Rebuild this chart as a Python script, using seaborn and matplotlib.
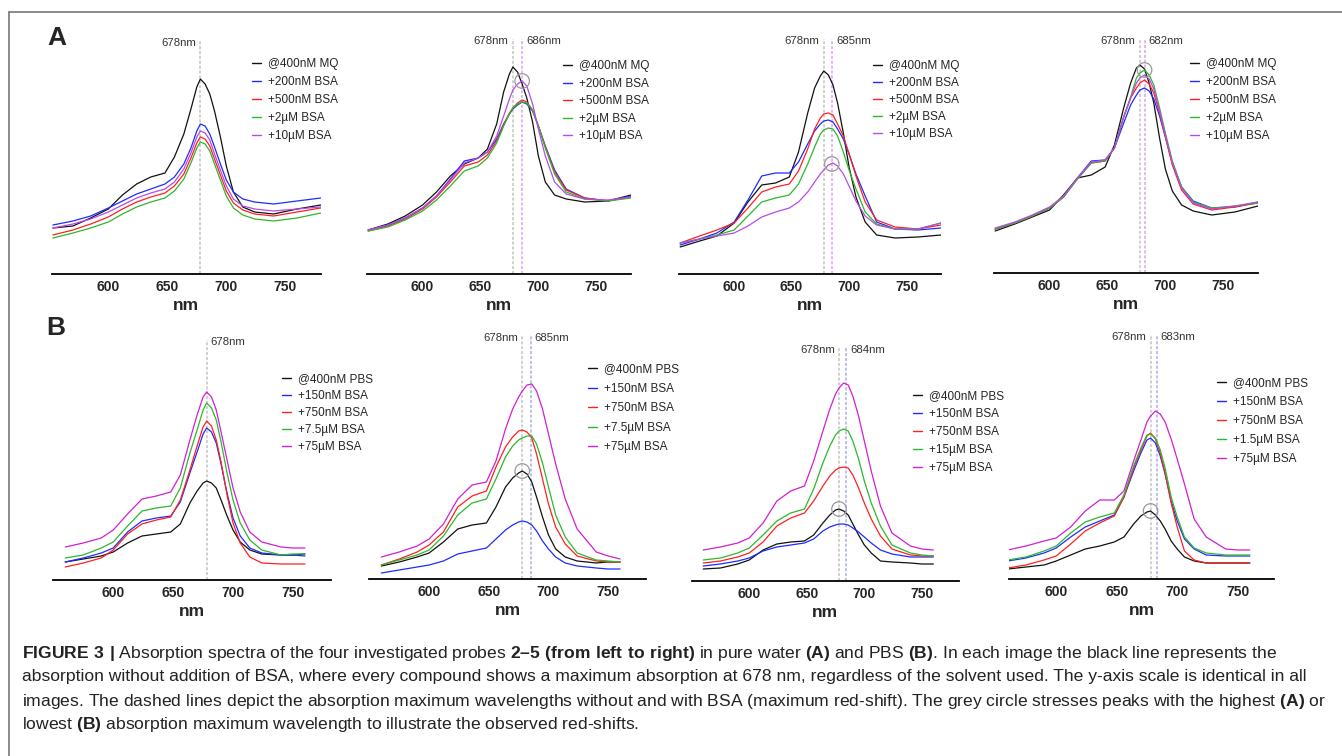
import numpy as np
import pandas as pd
import matplotlib
matplotlib.use("Agg")
import matplotlib.pyplot as plt
from matplotlib.lines import Line2D
import seaborn as sns

sns.set_style("white")
plt.rcParams["font.family"] = ["Liberation Sans", "DejaVu Sans"]
plt.rcParams["mathtext.fontset"] = "custom"
plt.rcParams["mathtext.rm"] = "Liberation Sans"
plt.rcParams["mathtext.bf"] = "Liberation Sans:bold"

W, H = 1342, 756

# wavelength grids (nm)
TOP_NM = [553, 570, 585, 600, 612, 624, 636, 648, 656, 664, 670, 675,
          678, 682, 686, 690, 695, 700, 706, 714, 724, 740, 760, 780]
BOT_NM = [560, 575, 590, 600, 612, 624, 636, 648, 656, 664, 670, 675,
          678, 682, 686, 690, 695, 700, 706, 714, 724, 740, 750, 760]

# legend labels, order: reference, then increasing BSA
MQ_LABELS = ["@400nM MQ", "+200nM BSA", "+500nM BSA", "+2µM BSA", "+10µM BSA"]
B1_LABELS = ["@400nM PBS", "+150nM BSA", "+750nM BSA", "+7.5µM BSA", "+75µM BSA"]
B3_LABELS = ["@400nM PBS", "+150nM BSA", "+750nM BSA", "+15µM BSA", "+75µM BSA"]
B4_LABELS = ["@400nM PBS", "+150nM BSA", "+750nM BSA", "+1.5µM BSA", "+75µM BSA"]

# absorbance (arbitrary units, same scale in all panels)
# rows: black, blue, red, green, violet
A1_ABS = [
    [46, 48, 56, 65, 79, 90, 97, 101, 117, 140, 165, 187, 195, 190, 180, 163, 137, 108, 82, 67, 62, 60, 65, 69],
    [49, 53, 58, 66, 73, 80, 85, 90, 97, 110, 126, 143, 150, 148, 140, 127, 110, 94, 82, 75, 72, 70, 73, 76],
    [39, 44, 50, 57, 65, 72, 77, 81, 88, 100, 116, 131, 137, 135, 128, 115, 99, 83, 71, 64, 60, 58, 62, 66],
    [36, 41, 46, 52, 60, 67, 72, 76, 83, 95, 111, 126, 132, 130, 123, 110, 94, 78, 66, 59, 55, 53, 56, 61],
    [46, 50, 55, 62, 69, 76, 81, 85, 92, 105, 121, 137, 143, 141, 134, 120, 104, 88, 75, 68, 65, 63, 65, 67],
]
A2_ABS = [
    [44, 50, 58, 69, 82, 98, 110, 116, 125, 150, 182, 200, 207, 202, 190, 176, 152, 118, 92, 79, 75, 72, 73, 79],
    [44, 49, 56, 66, 78, 95, 113, 116, 122, 135, 150, 160, 165, 169, 172, 170, 163, 148, 128, 104, 85, 76, 73, 78],
    [43, 48, 55, 65, 77, 92, 108, 112, 119, 133, 149, 161, 166, 171, 174, 172, 164, 148, 127, 102, 84, 76, 73, 77],
    [43, 47, 54, 63, 74, 88, 103, 108, 116, 131, 148, 160, 166, 170, 172, 171, 164, 148, 126, 100, 82, 75, 73, 76],
    [44, 49, 56, 66, 78, 94, 111, 116, 122, 138, 158, 175, 184, 190, 193, 188, 170, 145, 118, 92, 80, 75, 74, 77],
]
A3_ABS = [
    [27, 33, 38, 51, 72, 89, 91, 97, 122, 161, 186, 198, 203, 199, 189, 171, 141, 107, 77, 52, 39, 36, 37, 39],
    [29, 35, 41, 52, 74, 98, 101, 101, 112, 130, 143, 150, 153, 154, 152, 145, 135, 120, 100, 78, 52, 45, 44, 46],
    [31, 38, 44, 51, 66, 82, 87, 90, 103, 125, 145, 156, 160, 161, 159, 150, 138, 120, 98, 72, 54, 47, 45, 49],
    [31, 35, 39, 44, 58, 72, 76, 79, 90, 110, 127, 140, 144, 146, 145, 138, 122, 104, 85, 62, 50, 45, 45, 51],
    [31, 35, 38, 41, 48, 57, 62, 66, 72, 82, 92, 100, 104, 109, 111, 108, 100, 88, 73, 58, 49, 45, 45, 51],
]
A4_ABS = [
    [42, 49, 56, 63, 78, 95, 98, 106, 128, 165, 190, 205, 208, 204, 190, 170, 135, 104, 82, 68, 62, 58, 61, 67],
    [44, 50, 57, 65, 76, 95, 112, 113, 125, 150, 168, 178, 183, 185, 182, 174, 157, 136, 110, 86, 72, 65, 66, 71],
    [44, 50, 57, 65, 76, 94, 110, 112, 125, 156, 175, 185, 190, 193, 189, 180, 160, 136, 108, 83, 69, 63, 66, 70],
    [44, 50, 57, 65, 76, 94, 110, 112, 125, 156, 176, 195, 200, 203, 198, 188, 165, 140, 112, 86, 71, 65, 67, 70],
    [45, 51, 58, 66, 77, 95, 111, 113, 125, 156, 175, 190, 195, 198, 194, 184, 162, 138, 110, 85, 70, 64, 67, 71],
]
B1_ABS = [
    [18, 21, 24, 28, 37, 44, 46, 48, 56, 77, 89, 97, 99, 97, 92, 80, 64, 50, 38, 30, 26, 25, 25, 26],
    [18, 22, 27, 32, 48, 59, 62, 64, 78, 107, 128, 146, 152, 148, 137, 116, 87, 62, 44, 32, 27, 25, 25, 24],
    [13, 17, 22, 30, 46, 56, 60, 63, 80, 110, 134, 153, 159, 154, 140, 118, 85, 57, 37, 23, 17, 16, 16, 16],
    [22, 25, 32, 38, 54, 69, 72, 74, 92, 127, 150, 170, 177, 172, 160, 138, 107, 80, 57, 40, 30, 25, 26, 26],
    [33, 37, 42, 50, 66, 81, 84, 88, 105, 140, 165, 183, 188, 183, 170, 148, 120, 92, 68, 48, 38, 33, 32, 32],
]
B2_ABS = [
    [13, 17, 22, 26, 37, 50, 54, 56, 72, 92, 101, 106, 108, 105, 97, 82, 62, 44, 30, 22, 18, 16, 17, 17],
    [6, 9, 12, 14, 18, 25, 28, 31, 40, 49, 54, 57, 58, 57, 54, 48, 38, 30, 22, 16, 13, 11, 10, 10],
    [14, 20, 27, 34, 47, 72, 83, 88, 112, 132, 142, 148, 149, 147, 141, 125, 100, 75, 52, 35, 23, 18, 17, 17],
    [14, 19, 24, 29, 43, 64, 76, 80, 100, 122, 133, 139, 141, 143, 143, 135, 116, 92, 64, 42, 26, 19, 18, 17],
    [22, 27, 33, 40, 55, 80, 94, 97, 118, 150, 170, 182, 188, 194, 195, 188, 170, 145, 115, 80, 50, 27, 23, 20],
]
B3_ABS = [
    [12, 13, 17, 21, 31, 37, 39, 40, 46, 58, 66, 71, 72, 70, 66, 57, 46, 36, 28, 20, 19, 18, 17, 17],
    [15, 17, 20, 23, 30, 34, 36, 38, 42, 50, 54, 56, 57, 57, 56, 53, 49, 44, 38, 31, 27, 24, 24, 24],
    [18, 20, 24, 28, 39, 55, 63, 68, 80, 95, 105, 111, 113, 114, 113, 106, 93, 78, 62, 45, 32, 26, 25, 25],
    [21, 23, 28, 33, 46, 60, 68, 72, 92, 118, 135, 146, 150, 152, 150, 140, 122, 100, 78, 55, 36, 28, 26, 25],
    [31, 34, 38, 43, 58, 80, 90, 95, 120, 150, 172, 187, 193, 198, 196, 185, 165, 140, 110, 75, 48, 35, 32, 31],
]
B4_ABS = [
    [10, 12, 14, 18, 24, 30, 33, 37, 42, 55, 63, 67, 68, 64, 58, 50, 38, 30, 22, 18, 16, 16, 16, 16],
    [18, 21, 26, 31, 42, 52, 58, 64, 82, 108, 126, 139, 141, 136, 123, 105, 78, 58, 40, 30, 24, 23, 23, 23],
    [11, 14, 19, 23, 35, 48, 56, 63, 82, 111, 129, 143, 146, 140, 126, 106, 76, 52, 28, 19, 16, 16, 16, 16],
    [19, 22, 28, 33, 46, 57, 62, 66, 84, 113, 131, 144, 145, 141, 129, 111, 82, 62, 42, 31, 26, 24, 24, 24],
    [29, 33, 38, 41, 52, 68, 79, 79, 88, 118, 139, 157, 163, 168, 165, 157, 140, 120, 95, 60, 42, 30, 29, 29],
]

# absorption maxima (nm) without / with BSA, and circled peaks (nm, abs)
A_MAX = [[678], [678, 686], [678, 685], [678, 682]]
B_MAX = [[678], [678, 685], [678, 684], [678, 683]]
A_CIRCLE = [None, (686, 193), (685, 110), (682, 203)]
B_CIRCLE = [None, (678, 108), (678, 72), (678, 68)]

COLORS_A = ["#111111", "#1f2bff", "#ff2020", "#2cb82c", "#b64be8"]
COLORS_B = ["#111111", "#1f2bff", "#ff2020", "#2cb82c", "#d21fd2"]

fig = plt.figure(figsize=(W / 100, H / 100), dpi=100)

# panel geometry in pixels: left, bottom, width, xlim, legend (x, y, spacing), label y
panels = [
    (TOP_NM, A1_ABS, MQ_LABELS, COLORS_A, A_MAX[0], A_CIRCLE[0], 51.7, 274, 269, (552, 780), (252, 63, 18), 43, "#d9a6ea"),
    (TOP_NM, A2_ABS, MQ_LABELS, COLORS_A, A_MAX[1], A_CIRCLE[1], 367, 274, 264, (552, 780), (563, 65, 17.5), 41, "#d9a6ea"),
    (TOP_NM, A3_ABS, MQ_LABELS, COLORS_A, A_MAX[2], A_CIRCLE[2], 679, 274, 262, (552, 780), (873, 65, 17), 41, "#d9a6ea"),
    (TOP_NM, A4_ABS, MQ_LABELS, COLORS_A, A_MAX[3], A_CIRCLE[3], 994, 273, 264, (552, 780), (1190, 63, 17.8), 41, "#d9a6ea"),
    (BOT_NM, B1_ABS, B1_LABELS, COLORS_B, B_MAX[0], B_CIRCLE[0], 53.3, 580, 278, (550, 782), (282, 378, 17), 342, "#aab0e6"),
    (BOT_NM, B2_ABS, B1_LABELS, COLORS_B, B_MAX[1], B_CIRCLE[1], 369.4, 579, 277, (550, 782), (588, 368, 19.5), 338, "#aab0e6"),
    (BOT_NM, B3_ABS, B3_LABELS, COLORS_B, B_MAX[2], B_CIRCLE[2], 691.7, 581, 267, (550, 782), (913, 395, 18), 350, "#aab0e6"),
    (BOT_NM, B4_ABS, B4_LABELS, COLORS_B, B_MAX[3], B_CIRCLE[3], 1009, 579, 265, (561, 780), (1217, 382, 19), 337, "#aab0e6"),
]

AX_H = 234

for i, (nm, vals, labels, colors, maxima, circle, left, bottom, width, xlim, leg, lab_y, shift_col) in enumerate(panels):
    ax = fig.add_axes([left / W, 1 - bottom / H, width / W, AX_H / H])
    df = pd.DataFrame({
        "nm": np.tile(nm, len(vals)),
        "abs": np.concatenate(vals),
        "sample": np.repeat(labels, len(nm)),
    })
    sns.lineplot(data=df, x="nm", y="abs", hue="sample", hue_order=labels,
                 palette=colors, estimator=None, linewidth=0.9, legend=False, ax=ax)
    ax.set_xlim(*xlim)
    ax.set_ylim(0, AX_H)
    ax.set_yticks([])
    ax.set_ylabel("")
    ax.set_xticks([600, 650, 700, 750])
    ax.tick_params(axis="x", length=0, pad=4, labelsize=10)
    for t in ax.get_xticklabels():
        t.set_fontweight("bold")
    ax.set_xlabel("nm", fontsize=12.5, fontweight="bold", labelpad=3)
    for s in ["top", "left", "right"]:
        ax.spines[s].set_visible(False)
    ax.spines["bottom"].set_color("black")
    ax.spines["bottom"].set_linewidth(1.3)
    ax.patch.set_alpha(0)

    # dashed lines at absorption maxima
    top_frac = (bottom - lab_y + 2) / AX_H
    for k, m in enumerate(maxima):
        ax.axvline(m, ymin=0, ymax=top_frac, color="#c4c4c4" if k == 0 else shift_col,
                   lw=1.1, ls=(0, (2, 1.2)), clip_on=False, zorder=0)
    yfrac = (bottom - lab_y) / AX_H
    lab_kw = dict(xycoords=("data", "axes fraction"), textcoords="offset points",
                  va="center", fontsize=8.2, color="#333333", annotation_clip=False)
    if len(maxima) == 1 and i >= 4:
        ax.annotate(f"{maxima[0]}nm", xy=(maxima[0], yfrac), xytext=(3, 0), ha="left", **lab_kw)
    else:
        ax.annotate(f"{maxima[0]}nm", xy=(maxima[0], yfrac), xytext=(-3, 0), ha="right", **lab_kw)
        if len(maxima) > 1:
            ax.annotate(f"{maxima[1]}nm", xy=(maxima[1], yfrac), xytext=(3, 0), ha="left", **lab_kw)
    if circle is not None:
        ax.scatter([circle[0]], [circle[1]], s=110, facecolors="none",
                   edgecolors="#9a9a9a", linewidths=0.9, zorder=5)

    lx, ly, sp = leg
    handles = [Line2D([0], [0], color=c, lw=1.0) for c in colors]
    fs = 8.5
    ax.legend(handles, labels, loc="upper left",
              bbox_to_anchor=(lx / W, 1 - (ly - 4.5) / H), bbox_transform=fig.transFigure,
              frameon=False, fontsize=fs, handlelength=0.75, handletextpad=0.6,
              labelspacing=(sp / 1.389 - fs * 1.017) / fs, borderpad=0, borderaxespad=0)

# panel letters
fig.text(57 / W, 1 - 38 / H, "A", fontsize=19, fontweight="bold", ha="center", va="center")
fig.text(56 / W, 1 - 328 / H, "B", fontsize=19, fontweight="bold", ha="center", va="center")

# frame
fig.add_artist(Line2D([9 / W, 1], [1 - 12 / H, 1 - 12 / H], transform=fig.transFigure, color="#777777", lw=1.2))
fig.add_artist(Line2D([9 / W, 9 / W], [0, 1 - 12 / H], transform=fig.transFigure, color="#777777", lw=1.2))

# caption (bold parts via mathtext)
CAPTION = [
    r"$\mathbf{FIGURE\ 3\ |}$ Absorption spectra of the four investigated probes "
    r"$\mathbf{2–5\ (from\ left\ to\ right)}$ in pure water $\mathbf{(A)}$ and PBS $\mathbf{(B)}$. "
    r"In each image the black line represents the",
    "absorption without addition of BSA, where every compound shows a maximum absorption at 678 nm, "
    "regardless of the solvent used. The y-axis scale is identical in all",
    "images. The dashed lines depict the absorption maximum wavelengths without and with BSA "
    r"(maximum red-shift). The grey circle stresses peaks with the highest $\mathbf{(A)}$ or",
    r"lowest $\mathbf{(B)}$ absorption maximum wavelength to illustrate the observed red-shifts.",
]
for row, line in enumerate(CAPTION):
    fig.text(22 / W, 1 - (651 + row * 23.8) / H, line, fontsize=12.6,
             ha="left", va="center_baseline", color="#222222")

fig.savefig("out.png", dpi=100)
